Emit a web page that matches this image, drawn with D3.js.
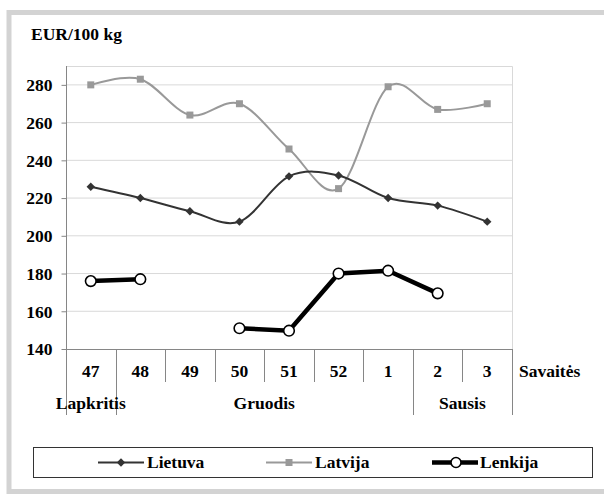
<!DOCTYPE html>
<html>
<head>
<meta charset="utf-8">
<script src="https://cdn.jsdelivr.net/npm/d3@7"></script>
<style>
  body { margin: 0; background: #fff; }
</style>
</head>
<body>
<script>
(function(){

    //chart data
    var weeks = ["47", "48", "49", "50", "51", "52", "1", "2", "3"];
    var months = ["Lapkritis", "Gruodis", "Sausis"];
    var monthWeeks = [1, 6, 2]; // how many week bands each month label spans
    var lietuva = [226, 220, 213, 207.5, 231.5, 232, 220, 216, 207.5];
    var latvija = [280, 283, 264, 270, 246, 225, 279, 267, 270];
    var lenkija = [176, 177, null, 151, 149.7, 180, 181.5, 169.5, null];
    var yTicks = [140, 160, 180, 200, 220, 240, 260, 280];
    var seriesNames = ["Lietuva", "Latvija", "Lenkija"];

    window.onload = drawChart();

    function drawChart(){
        var width = 604, height = 496;

        var svg = d3.select("body")
            .append("svg")
            .attr("width", width)
            .attr("height", height);

        //outer frame
        svg.append("rect")
            .attr("x", 9)
            .attr("y", 12.5)
            .attr("width", 620)
            .attr("height", 479)
            .attr("fill", "none")
            .attr("stroke", "#d3d3d3")
            .attr("stroke-width", 5);

        var plotLeft = 66, plotRight = 512, plotTop = 66, plotBottom = 349;

        var x = d3.scaleBand()
            .domain(weeks)
            .range([plotLeft, plotRight]);

        var y = d3.scaleLinear()
            .domain([140, 290])
            .range([plotBottom, plotTop]);

        //title
        svg.append("text")
            .attr("x", 31)
            .attr("y", 40)
            .text("EUR/100 kg");

        //gridlines
        svg.selectAll(".grid")
            .data(yTicks.slice(1))
            .enter()
            .append("line")
            .attr("class", "grid")
            .attr("x1", plotLeft)
            .attr("x2", plotRight)
            .attr("y1", function(d){ return y(d); })
            .attr("y2", function(d){ return y(d); })
            .attr("stroke", "#d9d9d9")
            .attr("stroke-width", 1);

        //plot border top/right
        svg.append("path")
            .attr("d", "M" + plotLeft + "," + (plotTop + 0.5) + "H" + (plotRight + 0.5) + "V" + plotBottom)
            .attr("fill", "none")
            .attr("stroke", "#d9d9d9");

        //y axis
        var yAxis = svg.append("g")
            .attr("transform", "translate(" + (plotLeft + 0.5) + ",0)")
            .call(d3.axisLeft(y).tickValues(yTicks).tickSize(5).tickPadding(9));
        yAxis.select(".domain")
            .attr("d", "M0," + plotTop + "V" + plotBottom)
            .attr("stroke", "#868686");
        yAxis.selectAll(".tick line").attr("stroke", "#868686");
        yAxis.selectAll(".tick text").attr("dy", "0.33em");

        //x axis (week labels)
        var xAxis = svg.append("g")
            .attr("transform", "translate(0," + (plotBottom + 0.5) + ")")
            .call(d3.axisBottom(x).tickSize(0).tickPadding(0));
        xAxis.select(".domain")
            .attr("d", "M" + plotLeft + ",0H" + (plotRight + 0.5))
            .attr("stroke", "#868686");
        xAxis.selectAll(".tick text")
            .attr("dy", null)
            .attr("y", 27.5);

        //week dividers
        var edges = weeks.map(function(d){ return x(d); }).concat([plotRight]);
        svg.selectAll(".weekDiv")
            .data(edges)
            .enter()
            .append("line")
            .attr("class", "weekDiv")
            .attr("x1", function(d){ return Math.round(d) + 0.5; })
            .attr("x2", function(d){ return Math.round(d) + 0.5; })
            .attr("y1", plotBottom)
            .attr("y2", 382)
            .attr("stroke", "#868686");

        //month labels and dividers
        var monthData = [];
        var start = 0;
        months.forEach(function(m, i){
            var x0 = x(weeks[start]);
            var x1 = x(weeks[start + monthWeeks[i] - 1]) + x.bandwidth();
            monthData.push({name: m, x0: x0, x1: x1});
            start += monthWeeks[i];
        });
        var monthEdges = [monthData[0].x0].concat(monthData.map(function(d){ return d.x1; }));
        svg.selectAll(".monthDiv")
            .data(monthEdges)
            .enter()
            .append("line")
            .attr("class", "monthDiv")
            .attr("x1", function(d){ return Math.round(d) + 0.5; })
            .attr("x2", function(d){ return Math.round(d) + 0.5; })
            .attr("y1", 382)
            .attr("y2", 415)
            .attr("stroke", "#868686");
        svg.selectAll(".monthLabel")
            .data(monthData)
            .enter()
            .append("text")
            .attr("class", "monthLabel")
            .attr("text-anchor", "middle")
            .attr("x", function(d){ return (d.x0 + d.x1) / 2; })
            .attr("y", 409)
            .text(function(d){ return d.name; });

        svg.append("text")
            .attr("x", 519)
            .attr("y", 377)
            .text("Savaitės");

        //lines
        var cx = function(d, i){ return x(weeks[i]) + x.bandwidth() / 2; };

        var smooth = d3.line()
            .x(cx)
            .y(function(d){ return y(d); })
            .curve(d3.curveCardinal.tension(0));

        var straight = d3.line()
            .defined(function(d){ return d !== null; })
            .x(cx)
            .y(function(d){ return y(d); });

        svg.append("path")
            .datum(latvija)
            .attr("d", smooth)
            .attr("fill", "none")
            .attr("stroke", "#999999")
            .attr("stroke-width", 2);

        svg.append("path")
            .datum(lietuva)
            .attr("d", smooth)
            .attr("fill", "none")
            .attr("stroke", "#333333")
            .attr("stroke-width", 2);

        svg.append("path")
            .datum(lenkija)
            .attr("d", straight)
            .attr("fill", "none")
            .attr("stroke", "#000")
            .attr("stroke-width", 4.5);

        //markers
        svg.selectAll(".sq")
            .data(latvija)
            .enter()
            .append("rect")
            .attr("class", "sq")
            .attr("x", function(d, i){ return cx(d, i) - 3.5; })
            .attr("y", function(d){ return y(d) - 3.5; })
            .attr("width", 7)
            .attr("height", 7)
            .attr("fill", "#999999");

        var diamond = d3.symbol().type(d3.symbolDiamond2).size(45);
        svg.selectAll(".dia")
            .data(lietuva)
            .enter()
            .append("path")
            .attr("class", "dia")
            .attr("d", diamond)
            .attr("transform", function(d, i){ return "translate(" + cx(d, i) + "," + y(d) + ")"; })
            .attr("fill", "#333333");

        svg.selectAll(".circ")
            .data(lenkija.map(function(d, i){ return {v: d, i: i}; }).filter(function(d){ return d.v !== null; }))
            .enter()
            .append("circle")
            .attr("class", "circ")
            .attr("cx", function(d){ return cx(d.v, d.i); })
            .attr("cy", function(d){ return y(d.v); })
            .attr("r", 5.3)
            .attr("fill", "#fff")
            .attr("stroke", "#000")
            .attr("stroke-width", 1.6);

        //legend
        svg.append("rect")
            .attr("x", 33.5)
            .attr("y", 447.5)
            .attr("width", 559)
            .attr("height", 30)
            .attr("fill", "#fff")
            .attr("stroke", "#333")
            .attr("stroke-width", 1);

        var legendX = [98, 266, 432];
        var legendColor = ["#333333", "#999999", "#000"];
        var legendWidth = [2, 2, 4.5];
        var ly = 462.5;
        seriesNames.forEach(function(name, i){
            var g = svg.append("g").attr("transform", "translate(" + legendX[i] + "," + ly + ")");
            g.append("line")
                .attr("x1", 0)
                .attr("x2", 46)
                .attr("stroke", legendColor[i])
                .attr("stroke-width", legendWidth[i]);
            if (i == 0){
                g.append("path").attr("d", diamond).attr("transform", "translate(23,0)").attr("fill", legendColor[i]);
            } else if (i == 1){
                g.append("rect").attr("x", 19.5).attr("y", -3.5).attr("width", 7).attr("height", 7).attr("fill", legendColor[i]);
            } else {
                g.append("circle").attr("cx", 24).attr("r", 5).attr("fill", "#fff").attr("stroke", "#000").attr("stroke-width", 1.6);
            }
            g.append("text")
                .attr("x", i == 2 ? 48 : 49)
                .attr("y", 5.5)
                .text(name);
        });

        //same font on every text
        svg.selectAll("text")
            .style("font-family", "'Liberation Serif'")
            .style("font-weight", "bold")
            .style("font-size", "17.5px")
            .style("fill", "#000");
    };

})();
</script>
</body>
</html>
